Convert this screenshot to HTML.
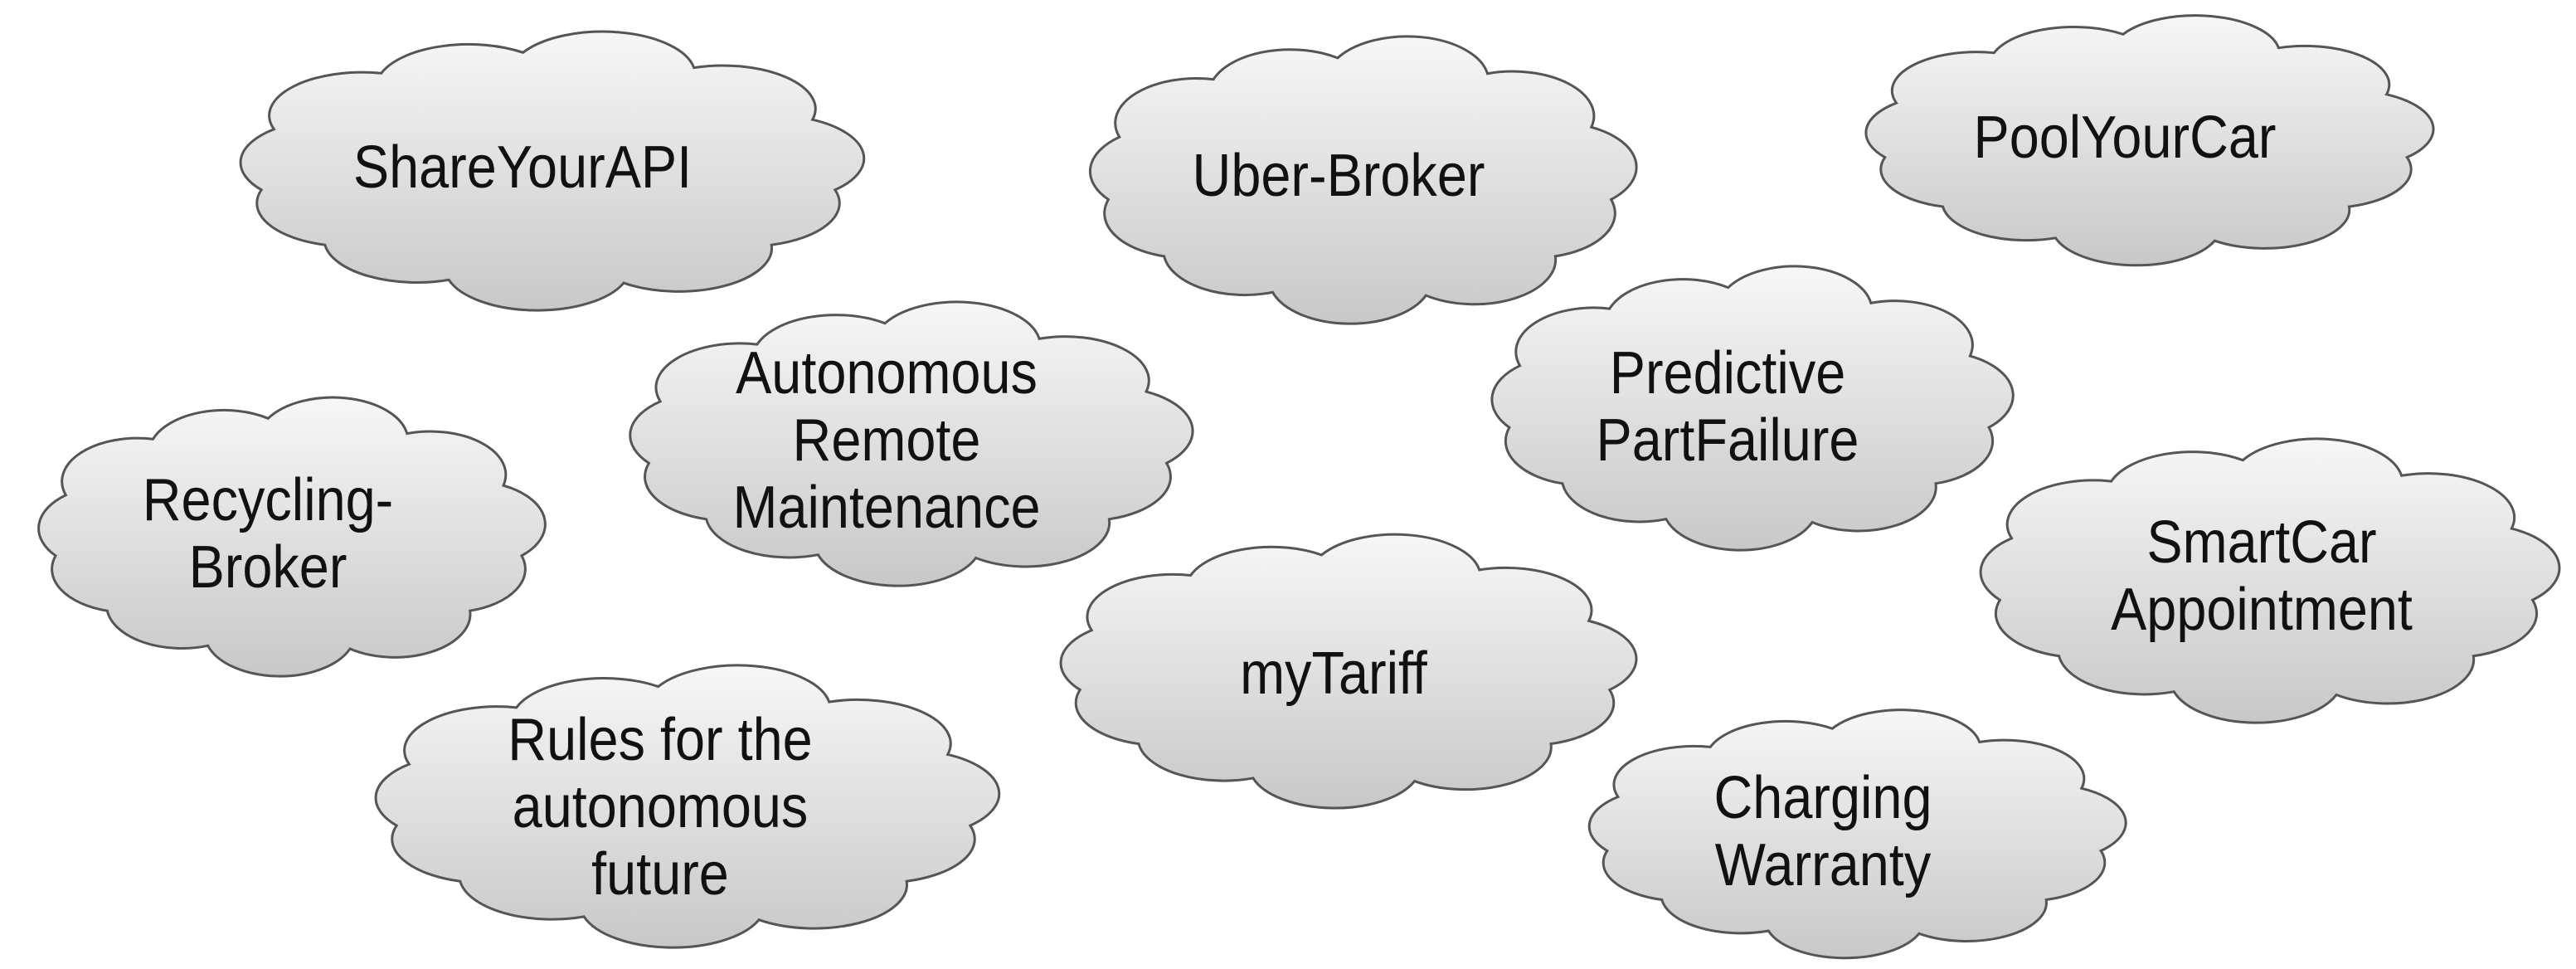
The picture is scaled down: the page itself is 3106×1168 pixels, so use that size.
<!DOCTYPE html>
<html><head><meta charset="utf-8"><style>
body{margin:0;width:3106px;height:1168px;background:#fff;overflow:hidden;position:relative;font-family:"Liberation Sans",Arial,sans-serif}
svg{position:absolute;left:0;top:0}
.t{position:absolute;width:800px;margin-left:-400px;text-align:center;font-size:72px;line-height:81px;color:#111;transform:scaleX(0.9);white-space:nowrap}
</style></head><body>
<svg width="3106" height="1168">
<defs>
<linearGradient id="g" x1="0" y1="0" x2="0" y2="1">
<stop offset="0" stop-color="#f7f7f7"/><stop offset="1" stop-color="#c8c8c8"/>
</linearGradient>
<path id="c" d="M8.6 37 A14 14 0 0 1 24.8 18.9 A14 14 0 0 1 46.2 12.2 A14 14 0 0 1 72 17.1 A14 14 0 0 1 89.9 33.9 A14 14 0 0 1 93.3 56.6 A14 14 0 0 1 83.7 74.4 A14 14 0 0 1 61.4 86.7 A14 14 0 0 1 35 85.7 A14 14 0 0 1 16.3 74.4 A14 14 0 0 1 6.7 56.6 A14 14 0 0 1 8.6 37 Z" fill="url(#g)" stroke="#555" stroke-width="3" vector-effect="non-scaling-stroke"/>
</defs>
<g transform="translate(277,44) scale(7.68,3.27)"><use href="#c" transform="translate(-2,-8) scale(1.04,1.14)"/></g>
<g transform="translate(1303,50) scale(6.73,3.37)"><use href="#c" transform="translate(-2,-8) scale(1.04,1.14)"/></g>
<g transform="translate(2238,24) scale(6.99,2.93)"><use href="#c" transform="translate(-2,-8) scale(1.04,1.14)"/></g>
<g transform="translate(748,370) scale(6.93,3.33)"><use href="#c" transform="translate(-2,-8) scale(1.04,1.14)"/></g>
<g transform="translate(1788,327) scale(6.42,3.33)"><use href="#c" transform="translate(-2,-8) scale(1.04,1.14)"/></g>
<g transform="translate(36,485) scale(6.24,3.27)"><use href="#c" transform="translate(-2,-8) scale(1.04,1.14)"/></g>
<g transform="translate(2376,535) scale(7.13,3.33)"><use href="#c" transform="translate(-2,-8) scale(1.04,1.14)"/></g>
<g transform="translate(1267,650) scale(7.09,3.21)"><use href="#c" transform="translate(-2,-8) scale(1.04,1.14)"/></g>
<g transform="translate(440,808) scale(7.68,3.31)"><use href="#c" transform="translate(-2,-8) scale(1.04,1.14)"/></g>
<g transform="translate(1905,861) scale(6.61,2.91)"><use href="#c" transform="translate(-2,-8) scale(1.04,1.14)"/></g>
</svg>
<div class="t" style="left:630px;top:162px">ShareYourAPI</div>
<div class="t" style="left:1614px;top:172px">Uber-Broker</div>
<div class="t" style="left:2562px;top:126px">PoolYourCar</div>
<div class="t" style="left:1069px;top:410px">Autonomous<br>Remote<br>Maintenance</div>
<div class="t" style="left:2083px;top:410px">Predictive<br>PartFailure</div>
<div class="t" style="left:323px;top:563px">Recycling-<br>Broker</div>
<div class="t" style="left:2727px;top:614px">SmartCar<br>Appointment</div>
<div class="t" style="left:1608px;top:772px">myTariff</div>
<div class="t" style="left:796px;top:852px">Rules for the<br>autonomous<br>future</div>
<div class="t" style="left:2198px;top:922px">Charging<br>Warranty</div>
</body></html>
